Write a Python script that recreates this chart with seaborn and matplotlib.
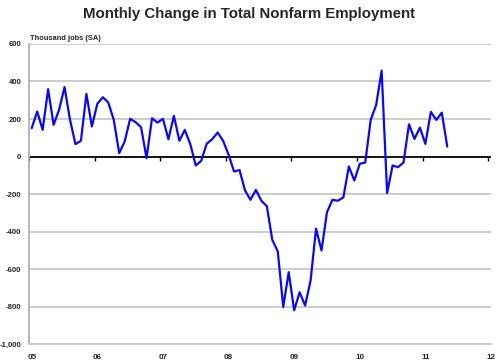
import matplotlib
matplotlib.use("Agg")
import matplotlib.pyplot as plt
import seaborn as sns
import numpy as np
import pandas as pd

# Monthly change in total nonfarm employment, thousand jobs (SA), Jan 2005 - May 2011
values = [151, 240, 142, 359, 169, 249, 370, 196, 66, 84, 334, 160,
          281, 316, 288, 196, 18, 80, 201, 183, 156, -9, 204, 181,
          201, 92, 217, 84, 142, 66, -48, -23, 68, 92, 128, 84,
          10, -80, -72, -180, -231, -178, -236, -265, -445, -506, -802, -617,
          -820, -724, -795, -662, -385, -501, -297, -231, -236, -218, -53, -128,
          -39, -32, 195, 275, 458, -195, -48, -57, -32, 172, 94, 154,
          67, 238, 195, 234, 53]
year_labels = ["05", "06", "07", "08", "09", "10", "11", "12"]
y_ticks = [-1000, -800, -600, -400, -200, 0, 200, 400, 600]

df = pd.DataFrame({"month": np.arange(len(values)) + 0.5, "change": values})

sns.set_style("white")
plt.rcParams["font.family"] = ["Liberation Sans", "DejaVu Sans"]

fig = plt.figure(figsize=(5.0, 3.63), dpi=100)
ax = fig.add_axes([0.058, 0.0523, 0.924, 0.8265])

for t in y_ticks:
    if t != 0:
        ax.axhline(t, color="#c8c8c8", lw=1.3, zorder=0)
ax.axhline(0, color="black", lw=1.3, zorder=1)

year_pos = np.arange(len(year_labels)) * 12
ax.plot(year_pos, np.zeros(len(year_pos)), linestyle="none", marker=3,
        markersize=3, color="black", mew=1.0, zorder=1)

sns.lineplot(data=df, x="month", y="change", ax=ax, color="#0a0af0",
             lw=1.6, zorder=3)

ax.set_xlim(0, 84)
ax.set_ylim(-1000, 600)
ax.set_yticks(y_ticks)
ax.set_yticklabels([f"{t:,}" for t in y_ticks], fontsize=5.6, fontweight="bold")
ax.set_xticks(year_pos + 0.5)
ax.set_xticklabels(year_labels, fontsize=5.8, fontweight="bold")
ax.tick_params(axis="x", length=0, pad=7)
ax.tick_params(axis="y", length=3, color="#a0a0a0", width=1, pad=2.5)

ax.set_xlabel("")
ax.set_ylabel("")
for s in ["top", "right"]:
    ax.spines[s].set_visible(False)
ax.spines["left"].set_color("#b0b0b0")
ax.spines["left"].set_linewidth(1.3)
ax.spines["bottom"].set_color("#c8c8c8")
ax.spines["bottom"].set_linewidth(1.3)

fig.text(0.498, 0.962, "Monthly Change in Total Nonfarm Employment", ha="center",
         va="center", fontsize=10.8, fontweight="bold")
fig.text(0.06, 0.895, "Thousand jobs (SA)", ha="left", va="center",
         fontsize=5.4, fontweight="bold")

fig.savefig("out.png", dpi=100)
